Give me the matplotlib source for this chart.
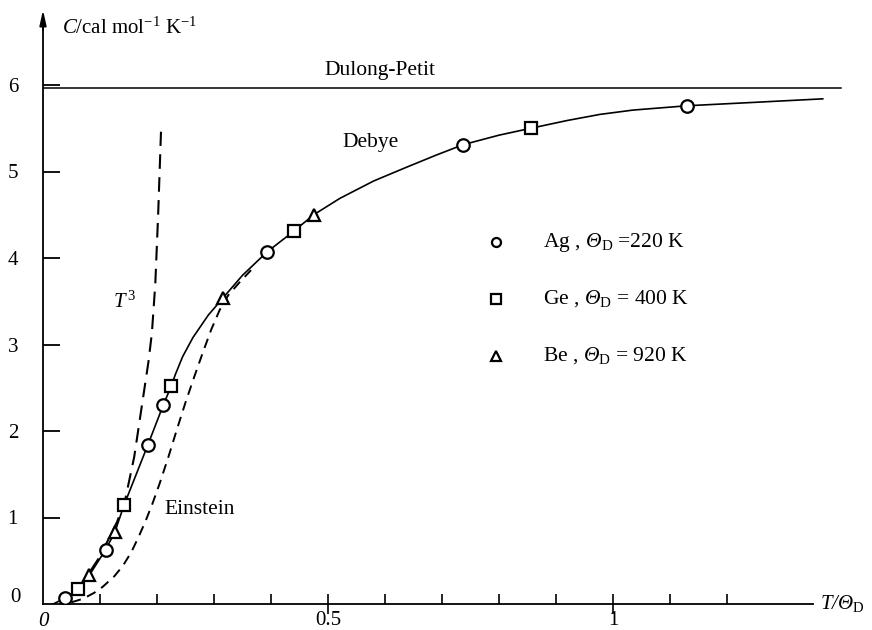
import matplotlib
matplotlib.use("Agg")
import matplotlib.pyplot as plt

plt.rcParams['font.family'] = ['Liberation Serif', 'DejaVu Serif']
plt.rcParams['mathtext.fontset'] = 'custom'
# rm is italic so that the Greek Theta comes out slanted, sf is kept upright
plt.rcParams['mathtext.rm'] = 'Liberation Serif:italic'
plt.rcParams['mathtext.it'] = 'Liberation Serif:italic'
plt.rcParams['mathtext.sf'] = 'Liberation Serif'
plt.rcParams['mathtext.bf'] = 'Liberation Serif:bold'

# Debye curve
debye_x = [0.018, 0.039, 0.061, 0.081, 0.11, 0.126, 0.142, 0.184, 0.211, 0.225,
           0.232, 0.245, 0.263, 0.29, 0.316, 0.35, 0.393, 0.44, 0.475, 0.521,
           0.58, 0.638, 0.69, 0.737, 0.8, 0.856, 0.92, 0.977, 1.035, 1.13,
           1.25, 1.368]
debye_y = [0.0, 0.07, 0.17, 0.33, 0.63, 0.83, 1.14, 1.84, 2.30, 2.52,
           2.65, 2.86, 3.08, 3.34, 3.54, 3.80, 4.07, 4.31, 4.50, 4.69,
           4.89, 5.05, 5.19, 5.31, 5.42, 5.50, 5.59, 5.66, 5.71, 5.76,
           5.80, 5.84]

# Einstein curve
einstein_x = [0.05, 0.07, 0.09, 0.105, 0.125, 0.14, 0.155, 0.168, 0.18, 0.192,
              0.205, 0.22, 0.235, 0.25, 0.265, 0.28, 0.295, 0.31, 0.325, 0.345,
              0.365]
einstein_y = [0.02, 0.06, 0.13, 0.2, 0.32, 0.44, 0.6, 0.78, 0.96, 1.16,
              1.4, 1.7, 2.02, 2.33, 2.62, 2.9, 3.17, 3.4, 3.57, 3.72,
              3.86]

# T^3 law
t3_x = [0.03, 0.06, 0.1, 0.13, 0.144, 0.16, 0.175, 0.185, 0.191, 0.197, 0.202, 0.207]
t3_y = [0.0, 0.15, 0.55, 0.95, 1.2, 1.7, 2.36, 2.8, 3.13, 3.7, 4.5, 5.46]

dulong_petit = 5.96

# experimental points
ag_x = [0.039, 0.11, 0.184, 0.211, 0.393, 0.737, 1.13]
ag_y = [0.07, 0.63, 1.84, 2.30, 4.07, 5.31, 5.76]
ge_x = [0.061, 0.142, 0.225, 0.44, 0.856]
ge_y = [0.17, 1.14, 2.52, 4.31, 5.50]
be_x = [0.081, 0.126, 0.316, 0.475]
be_y = [0.33, 0.83, 3.54, 4.50]

legend_labels = [r"Ag , $Θ_{\mathsf{D}}$ =220 K",
                 r"Ge , $Θ_{\mathsf{D}}$ = 400 K",
                 r"Be , $Θ_{\mathsf{D}}$ = 920 K"]

fig = plt.figure(figsize=(8.72, 6.3), dpi=100)
x0, y0 = 43, 604          # pixel position of origin
sx, sy = 570, 86.5        # pixels per unit
xmax, ymax = 1.45, 7.0
ax = fig.add_axes([x0 / 872, (630 - y0) / 630, xmax * sx / 872, ymax * sy / 630])
ax.set_xlim(0, xmax)
ax.set_ylim(0, ymax)

for s in ['top', 'right']:
    ax.spines[s].set_visible(False)
ax.spines['bottom'].set_bounds(0, 1.35)
ax.spines['left'].set_bounds(0, 6.8)
ax.spines['bottom'].set_linewidth(1.3)
ax.spines['left'].set_linewidth(1.3)
ax.annotate('', xy=(0, 6.9), xytext=(0, 6.6),
            arrowprops=dict(arrowstyle='-|>,head_length=0.9,head_width=0.2',
                            color='black', lw=1.3))

ax.axhline(dulong_petit, xmin=0, xmax=1.40 / xmax, color='black', lw=1.1)
ax.plot(t3_x, t3_y, color='black', lw=1.5, ls=(0, (7, 4)))
ax.plot(einstein_x, einstein_y, color='black', lw=1.4, ls=(0, (5, 3.5)))
ax.plot(debye_x, debye_y, color='black', lw=1.2)

mk = dict(color='none', markerfacecolor='white', markeredgecolor='black',
          markeredgewidth=1.6, zorder=5)
ax.plot(ag_x, ag_y, marker='o', ms=9, **mk)
ax.plot(ge_x, ge_y, marker='s', ms=9, **mk)
ax.plot(be_x, be_y, marker='^', ms=9, **mk)

# legend
leg_y = [4.18, 3.53, 2.87]
for m, yy, lab in zip(['o', 's', '^'], leg_y, legend_labels):
    ax.plot([0.795], [yy], marker=m, ms=6.5, **mk)
    ax.text(0.877, yy, lab, fontsize=15.5, va='center', ha='left')

# ticks
ax.set_yticks([1, 2, 3, 4, 5, 6])
ax.set_yticklabels(['1', '2', '3', '4', '5', '6'])
ax.tick_params(axis='y', direction='in', length=12, width=1.3, pad=18, labelsize=15)
ax.set_xticks([0.5, 1.0])
ax.set_xticklabels(['0.5', '1'])
ax.set_xticks([0.1, 0.2, 0.3, 0.4, 0.6, 0.7, 0.8, 0.9, 1.1, 1.2], minor=True)
ax.tick_params(axis='x', which='major', direction='inout', length=14, width=1.2,
               pad=-2, labelsize=15)
ax.tick_params(axis='x', which='minor', direction='in', length=7, width=1.2)

ax.text(-0.0475, 0.08, '0', fontsize=15, ha='center', va='center')
ax.text(0.0, -0.2, '0', fontsize=15, ha='center', va='center', style='italic')

# labels
ax.text(0.033, 6.66, r"$C$/cal mol$^{\mathsf{-1}}$ K$^{\mathsf{-1}}$", fontsize=15,
        ha='left', va='center')
ax.text(1.363, 0.0, r"$T/Θ_{\mathsf{D}}$", fontsize=15, ha='left', va='center')
ax.text(0.591, 6.17, "Dulong-Petit", fontsize=15.5, ha='center', va='center')
ax.text(0.574, 5.33, "Debye", fontsize=15.5, ha='center', va='center')
ax.text(0.144, 3.49, r"$T^{\,\mathsf{3}}$", fontsize=15, ha='center', va='center')
ax.text(0.275, 1.09, "Einstein", fontsize=15.5, ha='center', va='center')

fig.savefig("out.png", dpi=100)
